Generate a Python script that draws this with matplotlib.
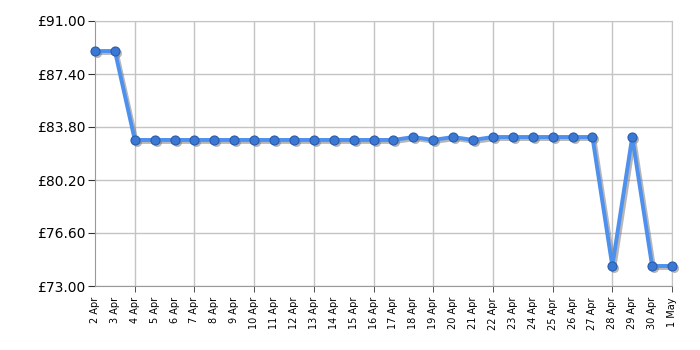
import matplotlib
matplotlib.use("Agg")
import matplotlib.pyplot as plt
import matplotlib.transforms as mtransforms
import numpy as np

dates = ["2 Apr", "3 Apr", "4 Apr", "5 Apr", "6 Apr", "7 Apr", "8 Apr", "9 Apr",
         "10 Apr", "11 Apr", "12 Apr", "13 Apr", "14 Apr", "15 Apr", "16 Apr",
         "17 Apr", "18 Apr", "19 Apr", "20 Apr", "21 Apr", "22 Apr", "23 Apr",
         "24 Apr", "25 Apr", "26 Apr", "27 Apr", "28 Apr", "29 Apr", "30 Apr", "1 May"]
prices = [88.96, 88.96, 82.92, 82.92, 82.92, 82.92, 82.92, 82.92,
          82.92, 82.92, 82.92, 82.92, 82.92, 82.92, 82.92,
          82.92, 83.12, 82.92, 83.12, 82.92, 83.12, 83.12,
          83.12, 83.12, 83.12, 83.12, 74.36, 83.12, 74.36, 74.36]
y_ticks = [73.00, 76.60, 80.20, 83.80, 87.40, 91.00]

plt.rcParams["font.family"] = ["DejaVu Sans"]

fig = plt.figure(figsize=(7, 3.5), dpi=100)
ax = fig.add_axes([95 / 700, 1 - 286 / 350, (672 - 95) / 700, (286 - 21) / 350])

x = np.arange(len(dates))

# drop shadow
shadow = mtransforms.offset_copy(ax.transData, fig=fig, x=2, y=-2, units="dots")
ax.plot(x, prices, color="#707070", alpha=0.5, linewidth=2.8, marker="o", markersize=6.5,
        markeredgewidth=0, transform=shadow, zorder=2, clip_on=False)

ax.plot(x, prices, color="#4d90ee", linewidth=2.8, marker="o", markersize=6.5,
        markerfacecolor="#3b78d4", markeredgecolor="#2a5bab", markeredgewidth=0.8,
        zorder=3, clip_on=False)

ax.set_xlim(0, len(dates) - 1)
ax.set_ylim(73, 91)

ax.set_yticks(y_ticks)
ax.set_yticklabels([f"£{v:.2f}" for v in y_ticks], fontsize=10)
ax.tick_params(axis="y", length=5, color="#333333", pad=2)

ax.xaxis.remove_overlapping_locs = False
ax.set_xticks(x)
ax.set_xticklabels(dates, rotation=90, fontsize=7)
ax.tick_params(axis="x", which="major", length=0, pad=8)
ax.set_xticks(x[2::3], minor=True)
ax.tick_params(axis="x", which="minor", length=4, color="#333333")

ax.grid(False)
ax.grid(True, axis="x", which="minor", color="#c4c4c4", linewidth=1)
ax.grid(True, axis="y", which="major", color="#c4c4c4", linewidth=1)
ax.set_axisbelow(True)

for side in ["top", "right"]:
    ax.spines[side].set_color("#c4c4c4")
for side in ["left", "bottom"]:
    ax.spines[side].set_color("#999999")

fig.savefig("out.png", dpi=100)
